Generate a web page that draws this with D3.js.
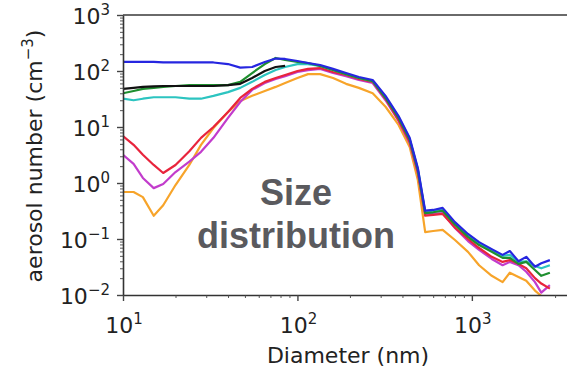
<!DOCTYPE html>
<html>
<head>
<meta charset="utf-8">
<script src="https://cdn.jsdelivr.net/npm/d3@7"></script>
<style>
  body { margin: 0; background: #fff; }
  svg { display: block; }
</style>
</head>
<body>
<svg id="chart" width="567" height="370"></svg>
<script>
// diameters (nm) shared by every run
const diameters = [10, 11.5, 13, 15, 17, 20, 24, 28, 33, 40, 47, 55, 65, 75, 85, 100, 115, 135, 160, 190,
  225, 270, 320, 380, 440, 490, 540, 600, 680, 800, 950, 1100, 1300, 1500, 1650, 1850, 2050, 2300, 2500, 2800];

// aerosol number (cm^-3)
const blueRun = [145, 145, 145, 145, 142, 142, 142, 142, 142, 133, 115, 118, 145, 167, 164, 151, 139, 128, 109, 92,
  78, 69, 36, 15.7, 6.4, 1.85, 0.32, 0.33, 0.36, 0.20, 0.123, 0.088, 0.066, 0.052, 0.061, 0.040, 0.048, 0.032, 0.037, 0.042];
const greenRun = [40, 44, 48, 50, 52, 54, 56, 56, 56, 56, 64, 92, 133, 171, 157, 145, 139, 123, 104, 88,
  75, 66, 33, 14.5, 5.9, 1.7, 0.29, 0.30, 0.32, 0.18, 0.109, 0.078, 0.059, 0.046, 0.046, 0.036, 0.039, 0.028, 0.022, 0.025];
const blackRun = [48, 50, 52, 53, 54, 54, 54, 54, 54, 56, 59, 75, 100, 118, 123];
const cyanRun = [32, 30, 32, 34, 34, 34, 32, 32, 36, 42, 50, 64, 85, 104, 118, 133, 133, 123, 104, 88,
  75, 66, 34, 15.1, 6.1, 1.8, 0.30, 0.32, 0.33, 0.19, 0.118, 0.085, 0.064, 0.050, 0.052, 0.039, 0.040, 0.033, 0.030, 0.034];
const redRun = [6.9, 4.8, 3.2, 2.1, 1.51, 2.1, 3.7, 6.4, 10, 18.5, 33, 48, 64, 75, 85, 100, 109, 113, 96, 85,
  72, 64, 32, 13.3, 5.4, 1.57, 0.26, 0.27, 0.28, 0.16, 0.100, 0.069, 0.048, 0.039, 0.042, 0.036, 0.030, 0.020, 0.016, 0.013];
const magentaRun = [3.2, 2.2, 1.23, 0.81, 0.96, 1.57, 2.4, 3.6, 6.4, 14.5, 28, 46, 61, 72, 81, 96, 104, 109, 92, 81,
  69, 61, 30, 12.8, 5.2, 1.51, 0.28, 0.28, 0.29, 0.157, 0.092, 0.064, 0.044, 0.034, 0.039, 0.034, 0.026, 0.017, 0.011, 0.015];
const orangeRun = [0.69, 0.69, 0.56, 0.26, 0.40, 0.92, 2.1, 4.8, 9.6, 18.5, 29, 36, 44, 52, 61, 75, 88, 88, 75, 59,
  50, 40, 23, 10.9, 4.4, 1.13, 0.133, 0.139, 0.145, 0.096, 0.059, 0.034, 0.022, 0.017, 0.025, 0.021, 0.018, 0.012, 0.0096];

const xTickExps = [1, 2, 3];
const yTickExps = [-2, -1, 0, 1, 2, 3];

const runs = [
  { values: orangeRun, color: "#f7a42a" },
  { values: magentaRun, color: "#c23ccc" },
  { values: redRun, color: "#e8243c" },
  { values: cyanRun, color: "#2cc4c0" },
  { values: greenRun, color: "#1f8f2f" },
  { values: blackRun, color: "#111111" },
  { values: blueRun, color: "#2626e0" }
];

const svg = d3.select("#chart");
const font = "'DejaVu Sans', sans-serif";

const x = d3.scaleLog().domain([10, 3800]).range([123, 573]);
const y = d3.scaleLog().domain([1e-2, 1e3]).range([295, 15]);

const isMajor = v => Math.abs(Math.log10(v) - Math.round(Math.log10(v))) < 1e-9;

svg.append("clipPath").attr("id", "plotClip")
  .append("rect")
  .attr("x", x.range()[0]).attr("y", y.range()[1])
  .attr("width", x.range()[1] - x.range()[0])
  .attr("height", y.range()[0] - y.range()[1]);

// top spine
svg.append("line")
  .attr("x1", x.range()[0]).attr("x2", x.range()[1])
  .attr("y1", y.range()[1]).attr("y2", y.range()[1])
  .attr("stroke", "#6a6a6a").attr("stroke-width", 2);

// runs
const line = d3.line()
  .defined(d => d[1] != null)
  .x(d => x(d[0]))
  .y(d => y(d[1]));

svg.append("g").attr("clip-path", "url(#plotClip)")
  .selectAll("path")
  .data(runs)
  .join("path")
  .attr("d", r => line(diameters.map((D, i) => [D, r.values[i]])))
  .attr("fill", "none")
  .attr("stroke", r => r.color)
  .attr("stroke-width", 2.2)
  .attr("stroke-linejoin", "round");

// y axis
const yAxis = svg.append("g")
  .attr("transform", `translate(${x.range()[0]},0)`)
  .call(d3.axisLeft(y).tickValues(y.ticks()).tickFormat("").tickSizeOuter(0));
yAxis.select(".domain").attr("stroke", "#333").attr("stroke-width", 1.6);
yAxis.selectAll(".tick line")
  .attr("x2", d => isMajor(d) ? -6 : -3)
  .attr("stroke", "#444")
  .attr("stroke-width", d => isMajor(d) ? 1.4 : 0.9);

// x axis
const xAxis = svg.append("g")
  .attr("transform", `translate(0,${y.range()[0]})`)
  .call(d3.axisBottom(x).tickValues(x.ticks()).tickFormat("").tickSizeOuter(0));
xAxis.select(".domain").attr("stroke", "#333").attr("stroke-width", 1.6);
xAxis.selectAll(".tick line")
  .attr("y2", d => isMajor(d) ? 6 : 3)
  .attr("stroke", "#444")
  .attr("stroke-width", d => isMajor(d) ? 1.4 : 0.9);

function powerLabel(sel) {
  sel.append("tspan").text("10");
  sel.append("tspan")
    .attr("dy", -9)
    .attr("font-size", 15)
    .text(d => d < 0 ? "\u2212" + Math.abs(d) : d);
}

svg.append("g")
  .attr("font-family", font).attr("font-size", 22).attr("fill", "#222")
  .selectAll("text")
  .data(yTickExps)
  .join("text")
  .attr("x", x.range()[0] - 13)
  .attr("y", d => y(10 ** d) + 9)
  .attr("text-anchor", "end")
  .call(powerLabel);

svg.append("g")
  .attr("font-family", font).attr("font-size", 22).attr("fill", "#222")
  .selectAll("text")
  .data(xTickExps)
  .join("text")
  .attr("x", d => x(10 ** d) + 1)
  .attr("y", 333)
  .attr("text-anchor", "middle")
  .call(powerLabel);

// axis titles
svg.append("text")
  .attr("x", 348).attr("y", 363)
  .attr("text-anchor", "middle")
  .attr("font-family", font).attr("font-size", 22).attr("fill", "#222")
  .text("Diameter (nm)");

const yTitle = svg.append("text")
  .attr("transform", "translate(42,156) rotate(-90)")
  .attr("text-anchor", "middle")
  .attr("font-family", font).attr("font-size", 22).attr("fill", "#222");
yTitle.append("tspan").text("aerosol number (cm");
yTitle.append("tspan").attr("dy", -9).attr("font-size", 15).text("\u22123");
yTitle.append("tspan").attr("dy", 9).text(")");

// overlay caption
const caption = svg.append("text")
  .attr("text-anchor", "middle")
  .attr("font-family", "'Liberation Sans', Arial, sans-serif")
  .attr("font-weight", "bold").attr("font-size", 36).attr("fill", "#5a5a5e");
caption.append("tspan").attr("x", 296).attr("y", 205).text("Size");
caption.append("tspan").attr("x", 296).attr("y", 248).text("distribution");
</script>
</body>
</html>
